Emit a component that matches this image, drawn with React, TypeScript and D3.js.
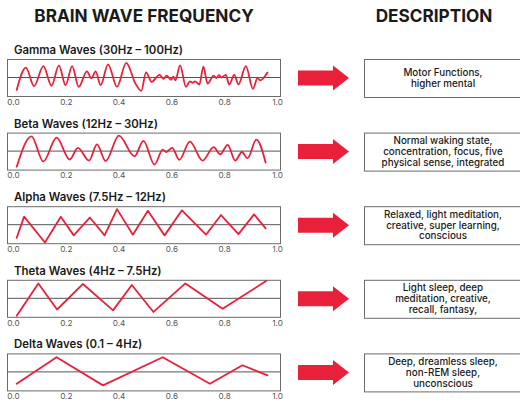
import React, { useEffect, useRef } from 'react';
import * as d3 from 'd3';

type Pt = [number, number];

const waveTitles = [
  'Gamma Waves (30Hz – 100Hz)',
  'Beta Waves (12Hz – 30Hz)',
  'Alpha Waves (7.5Hz – 12Hz)',
  'Theta Waves (4Hz – 7.5Hz)',
  'Delta Waves (0.1 – 4Hz)',
];

const descriptions = [
  ['Motor Functions,', 'higher mental'],
  ['Normal waking state,', 'concentration, focus, five', 'physical sense, integrated'],
  ['Relaxed, light meditation,', 'creative, super learning,', 'conscious'],
  ['Light sleep, deep', 'meditation, creative,', 'recall, fantasy,'],
  ['Deep, dreamless sleep,', 'non-REM sleep,', 'unconscious'],
];

const gamma: Pt[] = [
  [0.014, -0.71], [0.049, 0.56], [0.08, -0.49], [0.115, 0.65], [0.146, -0.47],
  [0.174, 0.69], [0.199, -0.44], [0.224, 0.65], [0.249, -0.53], [0.28, 0.35],
  [0.297, -0.04], [0.313, 0.35], [0.332, -0.44], [0.36, 0.75], [0.394, -0.53],
  [0.429, 0.84], [0.464, -0.35], [0.486, -0.76], [0.504, 0.29], [0.525, -0.25],
  [0.555, 0.15], [0.57, -0.07], [0.582, 0.11], [0.599, -0.13], [0.607, 0.05],
  [0.615, -0.16], [0.633, 0.69], [0.655, -0.53], [0.67, -0.22], [0.68, -0.3],
  [0.69, -0.22], [0.706, -0.4], [0.721, 0.62], [0.737, -0.35], [0.76, 0.11],
  [0.77, -0.03], [0.78, 0.13], [0.79, 0.0], [0.806, 0.15], [0.819, -0.4],
  [0.838, 0.15], [0.854, -0.4], [0.882, 0.65], [0.909, -0.65], [0.926, -0.04],
  [0.936, -0.16], [0.964, 0.29],
];

const beta: Pt[] = [
  [0.014, -0.89], [0.07, 0.84], [0.115, -0.59], [0.165, 0.77], [0.215, -0.48],
  [0.246, 0.18], [0.288, -0.54], [0.318, 0.39], [0.351, -0.57], [0.401, 0.89],
  [0.46, -0.3], [0.494, 0.59], [0.536, -0.77], [0.567, 0.09], [0.58, -0.05],
  [0.603, 0.18], [0.63, -0.5], [0.67, 0.54], [0.718, -0.54], [0.76, 0.23],
  [0.785, -0.18], [0.813, 0.36], [0.842, -0.54], [0.867, -0.05], [0.888, -0.41],
  [0.922, 0.66], [0.957, -0.66],
];

const alpha: Pt[] = [
  [0.014, -0.75], [0.042, 0.46], [0.121, -1.02], [0.181, 0.45], [0.23, -0.61],
  [0.291, 0.41], [0.347, -0.61], [0.394, 0.89], [0.454, -0.57], [0.511, 0.8],
  [0.574, -0.61], [0.64, 0.82], [0.731, -0.57], [0.788, 0.55], [0.854, -0.54],
  [0.913, 0.59], [0.957, -0.21],
];

const theta: Pt[] = [
  [0.014, -1.0], [0.096, 0.85], [0.167, -0.64], [0.265, 0.82], [0.379, -0.69],
  [0.45, 0.76], [0.532, -0.78], [0.653, 0.85], [0.794, -0.6], [0.96, 1.0],
];

const delta: Pt[] = [
  [0.014, -0.68], [0.165, 0.84], [0.341, -0.77], [0.567, 0.84], [0.746, -0.68],
  [0.869, 0.38], [0.964, -0.2],
];

const waves = [gamma, beta, alpha, theta, delta];
const smoothWave = [true, true, false, false, false];
const xTicks = [0, 0.2, 0.4, 0.6, 0.8, 1.0];

const RED = '#e8203a';
const FONT = 'Inter, "Open Sans", sans-serif';

const App: React.FC = () => {
  const svgRef = useRef<SVGSVGElement | null>(null);

  useEffect(() => {
    const width = 520;
    const height = 402;
    const svg = d3.select(svgRef.current).attr('width', width).attr('height', height);
    svg.selectAll('*').remove();

    svg.append('rect').attr('width', width).attr('height', height).attr('fill', '#fff');

    // headers
    svg.append('text')
      .attr('x', 144).attr('y', 22)
      .attr('text-anchor', 'middle')
      .style('font-family', FONT).style('font-weight', 700).style('font-size', '17.2px')
      .attr('fill', '#1a1a1a')
      .text('BRAIN WAVE FREQUENCY');
    svg.append('text')
      .attr('x', 434).attr('y', 22)
      .attr('text-anchor', 'middle')
      .style('font-family', FONT).style('font-weight', 700).style('font-size', '17.2px')
      .attr('fill', '#1a1a1a')
      .text('DESCRIPTION');

    const x = d3.scaleLinear().domain([0, 1]).range([13, 277]);
    const boxH = 37;
    const step = 73.6;

    waves.forEach((data, i) => {
      const top = 59 + i * step;
      const bottom = top + boxH;
      const y = d3.scaleLinear().domain([-1, 1]).range([bottom - 1, top + 1]);
      const g = svg.append('g');

      g.append('text')
        .attr('x', 14).attr('y', top - 5)
        .style('font-family', FONT).style('font-weight', 600).style('font-size', '11.4px')
        .attr('fill', '#1a1a1a')
        .text(waveTitles[i]);

      g.append('rect')
        .attr('x', 7.5).attr('y', top + 0.5)
        .attr('width', 273).attr('height', boxH)
        .attr('fill', 'none').attr('stroke', '#6b6b6b').attr('stroke-width', 1);

      g.append('line')
        .attr('x1', 7.5).attr('x2', 280.5)
        .attr('y1', y(0)).attr('y2', y(0))
        .attr('stroke', '#555').attr('stroke-width', 1);

      const line = d3.line<Pt>()
        .x(d => x(d[0]))
        .y(d => y(d[1]))
        .curve(smoothWave[i] ? d3.curveMonotoneX : d3.curveLinear);

      g.append('path')
        .datum(data)
        .attr('d', line)
        .attr('fill', 'none')
        .attr('stroke', RED)
        .attr('stroke-width', 1.8)
        .attr('stroke-linejoin', 'round')
        .attr('stroke-linecap', 'round');

      const axis = d3.axisBottom(x)
        .tickValues(xTicks)
        .tickFormat(d3.format('.1f'))
        .tickSize(0)
        .tickPadding(3);
      const ax = g.append('g').attr('transform', `translate(0,${bottom})`).call(axis);
      ax.select('.domain').remove();
      ax.selectAll('text')
        .style('font-family', FONT).style('font-size', '8.2px')
        .attr('fill', '#555');

      // arrow
      const cy = top + boxH / 2 + 0.5;
      const arrow = d3.path();
      arrow.moveTo(298, cy - 7.5);
      arrow.lineTo(333, cy - 7.5);
      arrow.lineTo(333, cy - 12.5);
      arrow.lineTo(349, cy);
      arrow.lineTo(333, cy + 12.5);
      arrow.lineTo(333, cy + 7.5);
      arrow.lineTo(298, cy + 7.5);
      arrow.closePath();
      g.append('path').attr('d', arrow.toString()).attr('fill', RED);

      // description box
      g.append('rect')
        .attr('x', 364.5).attr('y', top + 0.5)
        .attr('width', 160).attr('height', boxH + 1)
        .attr('fill', '#fff').attr('stroke', '#6b6b6b').attr('stroke-width', 1);

      const lines = descriptions[i];
      const lh = 10.8;
      const startY = cy - ((lines.length - 1) * lh) / 2 + 3.4;
      const t = g.append('text')
        .attr('text-anchor', 'middle')
        .style('font-family', FONT).style('font-weight', 500).style('font-size', '9.8px')
        .attr('fill', '#1a1a1a');
      lines.forEach((s, j) => {
        t.append('tspan').attr('x', 443).attr('y', startY + j * lh).text(s);
      });
    });
  }, []);

  return <svg ref={svgRef} style={{ position: 'absolute', left: 0, top: 0 }}></svg>;
};

export default App;
